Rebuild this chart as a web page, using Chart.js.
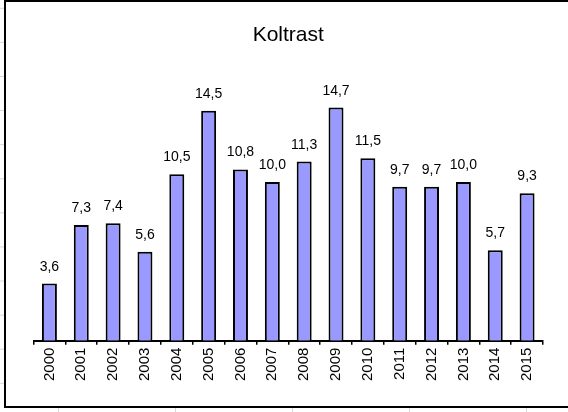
<!DOCTYPE html>
<html>
<head>
<meta charset="utf-8">
<script src="https://cdn.jsdelivr.net/npm/chart.js@4"></script>
<style>
html, body { margin: 0; padding: 0; overflow: hidden; }
body {
    width: 568px; height: 412px; background-color: #fff;
    background-image:
        linear-gradient(to bottom, transparent 8px, #d8d8d8 8px, #d8d8d8 9px, transparent 9px),
        linear-gradient(to right, transparent 58px, #d8d8d8 58px, #d8d8d8 59px, transparent 59px);
    background-size: 100% 34.1px, 117px 100%;
}
#frame { position: absolute; left: 4px; top: 0; width: 620px; height: 404px; border: 2px solid #000; background: #fff; }
canvas { display: block; }
</style>
</head>
<body>
<div id="frame"><canvas id="chartKoltrast" width="562" height="404"></canvas></div>
<script>
// Koltrast, värden per år
const years = ["2000", "2001", "2002", "2003", "2004", "2005", "2006", "2007",
               "2008", "2009", "2010", "2011", "2012", "2013", "2014", "2015"];
const values = [3.6, 7.3, 7.4, 5.6, 10.5, 14.5, 10.8, 10.0,
                11.3, 14.7, 11.5, 9.7, 9.7, 10.0, 5.7, 9.3];

const FONT = '"Liberation Sans", Arial, sans-serif';

// etiketter ovanför staplarna
const valueLabels = {
    id: "valueLabels",
    afterDatasetsDraw(chart) {
        const ctx = chart.ctx;
        const meta = chart.getDatasetMeta(0);
        ctx.save();
        ctx.font = "14px " + FONT;
        ctx.fillStyle = "#000";
        ctx.textAlign = "center";
        ctx.textBaseline = "alphabetic";
        meta.data.forEach((bar, i) => {
            ctx.fillText(values[i].toFixed(1).replace(".", ","), bar.x, bar.y - 13);
        });
        ctx.restore();
    }
};

new Chart(document.getElementById("chartKoltrast"), {
    type: "bar",
    data: {
        labels: years,
        datasets: [{
            label: "Koltrast",
            data: values,
            backgroundColor: "#9999ff",
            borderColor: "#000",
            borderWidth: 2,
            borderSkipped: "bottom",
            categoryPercentage: 1,
            barPercentage: 0.47
        }]
    },
    options: {
        responsive: false,
        animation: false,
        devicePixelRatio: 1,
        layout: { padding: { top: 10, left: 27.5, right: 25, bottom: 22 } },
        plugins: {
            legend: { display: false },
            tooltip: { enabled: false },
            title: {
                display: true,
                text: "Koltrast",
                color: "#000",
                font: { family: FONT, size: 21, weight: "normal" },
                padding: { top: 10.4, bottom: 39.4 }
            }
        },
        scales: {
            y: { display: false, min: 0, max: 16 },
            x: {
                grid: { display: true, offset: true, drawOnChartArea: false, drawTicks: true, tickLength: 4, color: "#000", lineWidth: 1.5 },
                border: { display: true, color: "#000", width: 2 },
                ticks: {
                    color: "#000",
                    font: { family: FONT, size: 15 },
                    minRotation: 90,
                    maxRotation: 90,
                    padding: 3,
                    autoSkip: false
                }
            }
        }
    },
    plugins: [valueLabels]
});
</script>
</body>
</html>
